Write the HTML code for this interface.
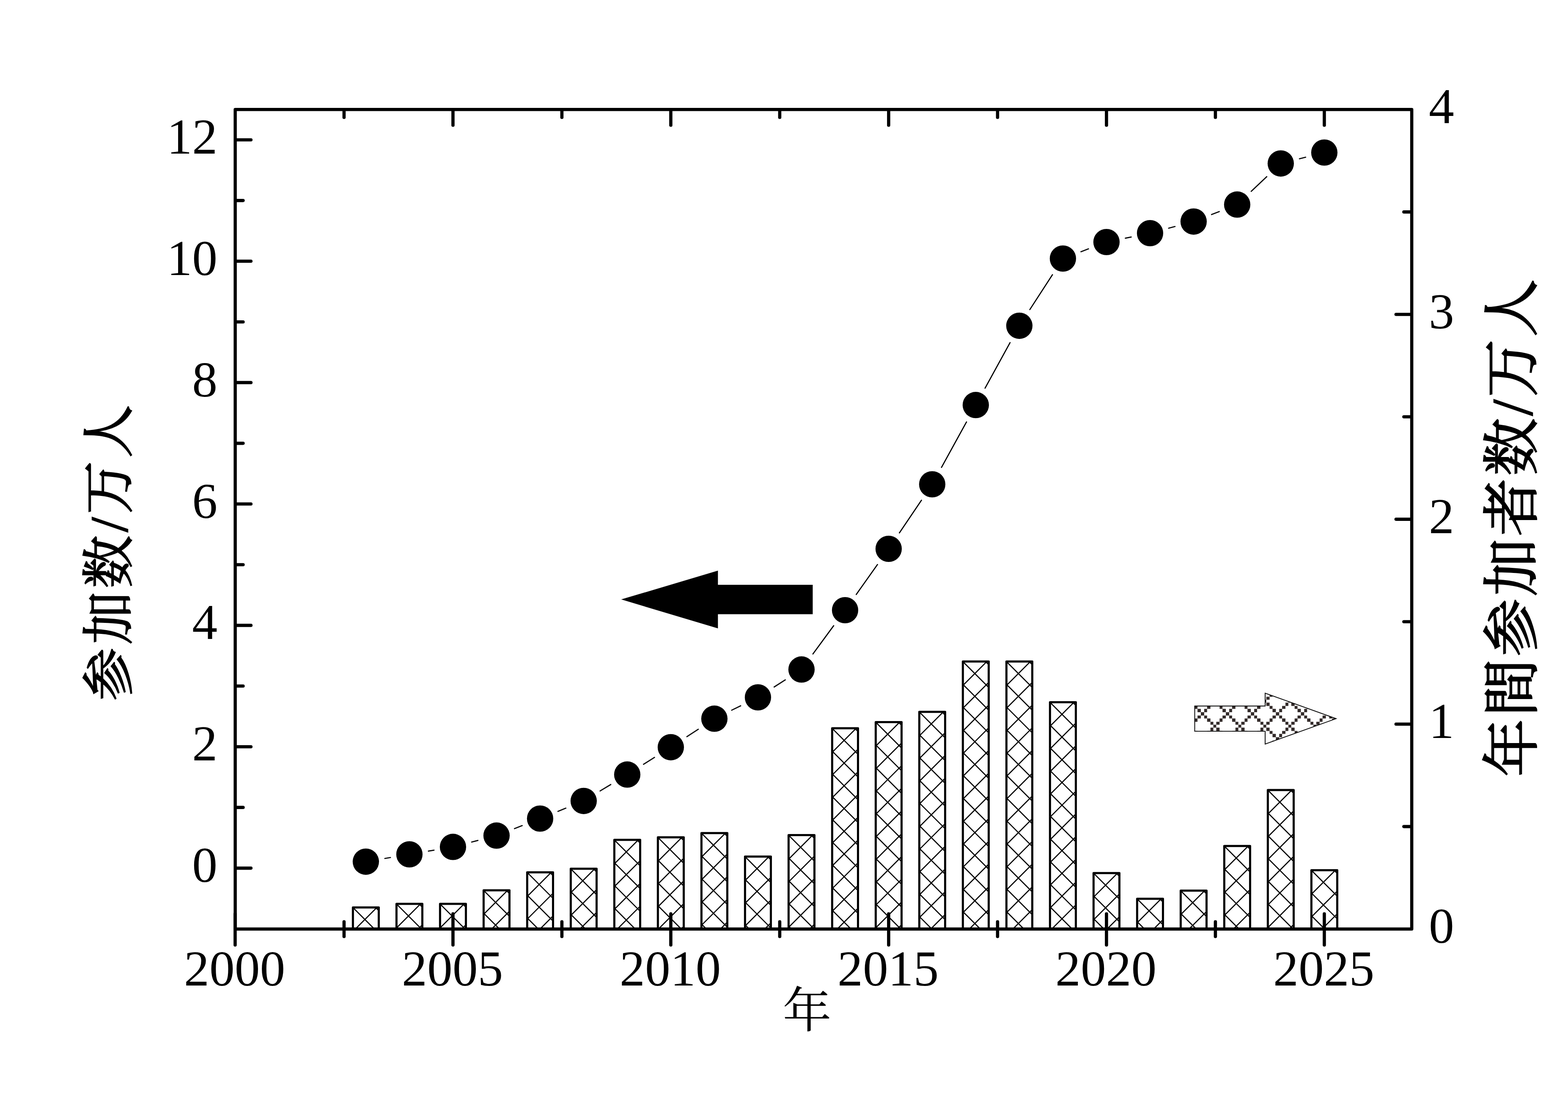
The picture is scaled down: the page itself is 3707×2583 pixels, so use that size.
<!DOCTYPE html>
<html><head><meta charset="utf-8"><title>chart</title>
<style>html,body{margin:0;padding:0;background:#fff}svg{display:block}text{font-family:"Liberation Serif","Noto Serif CJK SC",serif;fill:#000}</style>
</head><body>
<svg width="3707" height="2583" viewBox="0 0 3707 2583">
<rect x="0" y="0" width="3707" height="2583" fill="#fff"/>
<defs>
<clipPath id="c2003"><rect x="834.35" y="2144.40" width="61.10" height="51.00"/></clipPath>
<clipPath id="c2004"><rect x="937.35" y="2136.10" width="61.10" height="59.30"/></clipPath>
<clipPath id="c2005"><rect x="1040.35" y="2136.10" width="61.10" height="59.30"/></clipPath>
<clipPath id="c2006"><rect x="1143.35" y="2104.00" width="61.10" height="91.40"/></clipPath>
<clipPath id="c2007"><rect x="1246.35" y="2061.60" width="61.10" height="133.80"/></clipPath>
<clipPath id="c2008"><rect x="1349.35" y="2053.00" width="61.10" height="142.40"/></clipPath>
<clipPath id="c2009"><rect x="1452.35" y="1984.70" width="61.10" height="210.70"/></clipPath>
<clipPath id="c2010"><rect x="1555.35" y="1978.80" width="61.10" height="216.60"/></clipPath>
<clipPath id="c2011"><rect x="1658.35" y="1968.70" width="61.10" height="226.70"/></clipPath>
<clipPath id="c2012"><rect x="1761.35" y="2024.20" width="61.10" height="171.20"/></clipPath>
<clipPath id="c2013"><rect x="1864.35" y="1973.60" width="61.10" height="221.80"/></clipPath>
<clipPath id="c2014"><rect x="1967.35" y="1721.10" width="61.10" height="474.30"/></clipPath>
<clipPath id="c2015"><rect x="2070.35" y="1706.40" width="61.10" height="489.00"/></clipPath>
<clipPath id="c2016"><rect x="2173.35" y="1682.30" width="61.10" height="513.10"/></clipPath>
<clipPath id="c2017"><rect x="2276.35" y="1563.20" width="61.10" height="632.20"/></clipPath>
<clipPath id="c2018"><rect x="2379.35" y="1563.20" width="61.10" height="632.20"/></clipPath>
<clipPath id="c2019"><rect x="2482.35" y="1659.50" width="61.10" height="535.90"/></clipPath>
<clipPath id="c2020"><rect x="2585.35" y="2063.30" width="61.10" height="132.10"/></clipPath>
<clipPath id="c2021"><rect x="2688.35" y="2124.00" width="61.10" height="71.40"/></clipPath>
<clipPath id="c2022"><rect x="2791.35" y="2104.70" width="61.10" height="90.70"/></clipPath>
<clipPath id="c2023"><rect x="2894.35" y="1999.20" width="61.10" height="196.20"/></clipPath>
<clipPath id="c2024"><rect x="2997.35" y="1867.00" width="61.10" height="328.40"/></clipPath>
<clipPath id="c2025"><rect x="3100.35" y="2056.40" width="61.10" height="139.00"/></clipPath>
</defs>
<path d="M830.80 2033.70L910.98 2113.88M904.50 2023.70L830.80 2097.40M830.80 2087.40L910.98 2167.58M904.50 2077.40L830.80 2151.10M830.80 2141.10L910.98 2221.28M904.50 2131.10L830.80 2204.80M830.80 2194.80L910.98 2274.98M904.50 2184.80L830.80 2258.50M830.80 2248.50L910.98 2328.68M904.50 2238.50L830.80 2312.20" stroke="#000" stroke-width="2.65" fill="none" clip-path="url(#c2003)"/>
<path d="M834.35 2195.40V2144.40H895.45V2195.40" fill="none" stroke="#000" stroke-width="5.0" stroke-linejoin="round"/>
<path d="M933.80 2025.40L1013.98 2105.58M1007.50 2015.40L933.80 2089.10M933.80 2079.10L1013.98 2159.28M1007.50 2069.10L933.80 2142.80M933.80 2132.80L1013.98 2212.98M1007.50 2122.80L933.80 2196.50M933.80 2186.50L1013.98 2266.68M1007.50 2176.50L933.80 2250.20M933.80 2240.20L1013.98 2320.38M1007.50 2230.20L933.80 2303.90M933.80 2293.90L1013.98 2374.08M1007.50 2283.90L933.80 2357.60" stroke="#000" stroke-width="2.65" fill="none" clip-path="url(#c2004)"/>
<path d="M937.35 2195.40V2136.10H998.45V2195.40" fill="none" stroke="#000" stroke-width="5.0" stroke-linejoin="round"/>
<path d="M1036.80 2025.40L1116.98 2105.58M1110.50 2015.40L1036.80 2089.10M1036.80 2079.10L1116.98 2159.28M1110.50 2069.10L1036.80 2142.80M1036.80 2132.80L1116.98 2212.98M1110.50 2122.80L1036.80 2196.50M1036.80 2186.50L1116.98 2266.68M1110.50 2176.50L1036.80 2250.20M1036.80 2240.20L1116.98 2320.38M1110.50 2230.20L1036.80 2303.90M1036.80 2293.90L1116.98 2374.08M1110.50 2283.90L1036.80 2357.60" stroke="#000" stroke-width="2.65" fill="none" clip-path="url(#c2005)"/>
<path d="M1040.35 2195.40V2136.10H1101.45V2195.40" fill="none" stroke="#000" stroke-width="5.0" stroke-linejoin="round"/>
<path d="M1139.80 1993.30L1219.98 2073.48M1213.50 1983.30L1139.80 2057.00M1139.80 2047.00L1219.98 2127.18M1213.50 2037.00L1139.80 2110.70M1139.80 2100.70L1219.98 2180.88M1213.50 2090.70L1139.80 2164.40M1139.80 2154.40L1219.98 2234.58M1213.50 2144.40L1139.80 2218.10M1139.80 2208.10L1219.98 2288.28M1213.50 2198.10L1139.80 2271.80M1139.80 2261.80L1219.98 2341.98M1213.50 2251.80L1139.80 2325.50" stroke="#000" stroke-width="2.65" fill="none" clip-path="url(#c2006)"/>
<path d="M1143.35 2195.40V2104.00H1204.45V2195.40" fill="none" stroke="#000" stroke-width="5.0" stroke-linejoin="round"/>
<path d="M1242.80 1950.90L1322.98 2031.08M1316.50 1940.90L1242.80 2014.60M1242.80 2004.60L1322.98 2084.78M1316.50 1994.60L1242.80 2068.30M1242.80 2058.30L1322.98 2138.48M1316.50 2048.30L1242.80 2122.00M1242.80 2112.00L1322.98 2192.18M1316.50 2102.00L1242.80 2175.70M1242.80 2165.70L1322.98 2245.88M1316.50 2155.70L1242.80 2229.40M1242.80 2219.40L1322.98 2299.58M1316.50 2209.40L1242.80 2283.10M1242.80 2273.10L1322.98 2353.28M1316.50 2263.10L1242.80 2336.80" stroke="#000" stroke-width="2.65" fill="none" clip-path="url(#c2007)"/>
<path d="M1246.35 2195.40V2061.60H1307.45V2195.40" fill="none" stroke="#000" stroke-width="5.0" stroke-linejoin="round"/>
<path d="M1345.80 1942.30L1425.98 2022.48M1419.50 1932.30L1345.80 2006.00M1345.80 1996.00L1425.98 2076.18M1419.50 1986.00L1345.80 2059.70M1345.80 2049.70L1425.98 2129.88M1419.50 2039.70L1345.80 2113.40M1345.80 2103.40L1425.98 2183.58M1419.50 2093.40L1345.80 2167.10M1345.80 2157.10L1425.98 2237.28M1419.50 2147.10L1345.80 2220.80M1345.80 2210.80L1425.98 2290.98M1419.50 2200.80L1345.80 2274.50M1345.80 2264.50L1425.98 2344.68M1419.50 2254.50L1345.80 2328.20" stroke="#000" stroke-width="2.65" fill="none" clip-path="url(#c2008)"/>
<path d="M1349.35 2195.40V2053.00H1410.45V2195.40" fill="none" stroke="#000" stroke-width="5.0" stroke-linejoin="round"/>
<path d="M1448.80 1874.00L1528.98 1954.18M1522.50 1864.00L1448.80 1937.70M1448.80 1927.70L1528.98 2007.88M1522.50 1917.70L1448.80 1991.40M1448.80 1981.40L1528.98 2061.58M1522.50 1971.40L1448.80 2045.10M1448.80 2035.10L1528.98 2115.28M1522.50 2025.10L1448.80 2098.80M1448.80 2088.80L1528.98 2168.98M1522.50 2078.80L1448.80 2152.50M1448.80 2142.50L1528.98 2222.68M1522.50 2132.50L1448.80 2206.20M1448.80 2196.20L1528.98 2276.38M1522.50 2186.20L1448.80 2259.90M1448.80 2249.90L1528.98 2330.08M1522.50 2239.90L1448.80 2313.60" stroke="#000" stroke-width="2.65" fill="none" clip-path="url(#c2009)"/>
<path d="M1452.35 2195.40V1984.70H1513.45V2195.40" fill="none" stroke="#000" stroke-width="5.0" stroke-linejoin="round"/>
<path d="M1551.80 1868.10L1631.98 1948.28M1625.50 1858.10L1551.80 1931.80M1551.80 1921.80L1631.98 2001.98M1625.50 1911.80L1551.80 1985.50M1551.80 1975.50L1631.98 2055.68M1625.50 1965.50L1551.80 2039.20M1551.80 2029.20L1631.98 2109.38M1625.50 2019.20L1551.80 2092.90M1551.80 2082.90L1631.98 2163.08M1625.50 2072.90L1551.80 2146.60M1551.80 2136.60L1631.98 2216.78M1625.50 2126.60L1551.80 2200.30M1551.80 2190.30L1631.98 2270.48M1625.50 2180.30L1551.80 2254.00M1551.80 2244.00L1631.98 2324.18M1625.50 2234.00L1551.80 2307.70M1551.80 2297.70L1631.98 2377.88M1625.50 2287.70L1551.80 2361.40" stroke="#000" stroke-width="2.65" fill="none" clip-path="url(#c2010)"/>
<path d="M1555.35 2195.40V1978.80H1616.45V2195.40" fill="none" stroke="#000" stroke-width="5.0" stroke-linejoin="round"/>
<path d="M1654.80 1858.00L1734.98 1938.18M1728.50 1848.00L1654.80 1921.70M1654.80 1911.70L1734.98 1991.88M1728.50 1901.70L1654.80 1975.40M1654.80 1965.40L1734.98 2045.58M1728.50 1955.40L1654.80 2029.10M1654.80 2019.10L1734.98 2099.28M1728.50 2009.10L1654.80 2082.80M1654.80 2072.80L1734.98 2152.98M1728.50 2062.80L1654.80 2136.50M1654.80 2126.50L1734.98 2206.68M1728.50 2116.50L1654.80 2190.20M1654.80 2180.20L1734.98 2260.38M1728.50 2170.20L1654.80 2243.90M1654.80 2233.90L1734.98 2314.08M1728.50 2223.90L1654.80 2297.60M1654.80 2287.60L1734.98 2367.78M1728.50 2277.60L1654.80 2351.30" stroke="#000" stroke-width="2.65" fill="none" clip-path="url(#c2011)"/>
<path d="M1658.35 2195.40V1968.70H1719.45V2195.40" fill="none" stroke="#000" stroke-width="5.0" stroke-linejoin="round"/>
<path d="M1757.80 1913.50L1837.98 1993.68M1831.50 1903.50L1757.80 1977.20M1757.80 1967.20L1837.98 2047.38M1831.50 1957.20L1757.80 2030.90M1757.80 2020.90L1837.98 2101.08M1831.50 2010.90L1757.80 2084.60M1757.80 2074.60L1837.98 2154.78M1831.50 2064.60L1757.80 2138.30M1757.80 2128.30L1837.98 2208.48M1831.50 2118.30L1757.80 2192.00M1757.80 2182.00L1837.98 2262.18M1831.50 2172.00L1757.80 2245.70M1757.80 2235.70L1837.98 2315.88M1831.50 2225.70L1757.80 2299.40M1757.80 2289.40L1837.98 2369.58M1831.50 2279.40L1757.80 2353.10" stroke="#000" stroke-width="2.65" fill="none" clip-path="url(#c2012)"/>
<path d="M1761.35 2195.40V2024.20H1822.45V2195.40" fill="none" stroke="#000" stroke-width="5.0" stroke-linejoin="round"/>
<path d="M1860.80 1862.90L1940.98 1943.08M1934.50 1852.90L1860.80 1926.60M1860.80 1916.60L1940.98 1996.78M1934.50 1906.60L1860.80 1980.30M1860.80 1970.30L1940.98 2050.48M1934.50 1960.30L1860.80 2034.00M1860.80 2024.00L1940.98 2104.18M1934.50 2014.00L1860.80 2087.70M1860.80 2077.70L1940.98 2157.88M1934.50 2067.70L1860.80 2141.40M1860.80 2131.40L1940.98 2211.58M1934.50 2121.40L1860.80 2195.10M1860.80 2185.10L1940.98 2265.28M1934.50 2175.10L1860.80 2248.80M1860.80 2238.80L1940.98 2318.98M1934.50 2228.80L1860.80 2302.50M1860.80 2292.50L1940.98 2372.68M1934.50 2282.50L1860.80 2356.20" stroke="#000" stroke-width="2.65" fill="none" clip-path="url(#c2013)"/>
<path d="M1864.35 2195.40V1973.60H1925.45V2195.40" fill="none" stroke="#000" stroke-width="5.0" stroke-linejoin="round"/>
<path d="M1963.80 1610.40L2043.98 1690.58M2037.50 1600.40L1963.80 1674.10M1963.80 1664.10L2043.98 1744.28M2037.50 1654.10L1963.80 1727.80M1963.80 1717.80L2043.98 1797.98M2037.50 1707.80L1963.80 1781.50M1963.80 1771.50L2043.98 1851.68M2037.50 1761.50L1963.80 1835.20M1963.80 1825.20L2043.98 1905.38M2037.50 1815.20L1963.80 1888.90M1963.80 1878.90L2043.98 1959.08M2037.50 1868.90L1963.80 1942.60M1963.80 1932.60L2043.98 2012.78M2037.50 1922.60L1963.80 1996.30M1963.80 1986.30L2043.98 2066.48M2037.50 1976.30L1963.80 2050.00M1963.80 2040.00L2043.98 2120.18M2037.50 2030.00L1963.80 2103.70M1963.80 2093.70L2043.98 2173.88M2037.50 2083.70L1963.80 2157.40M1963.80 2147.40L2043.98 2227.58M2037.50 2137.40L1963.80 2211.10M1963.80 2201.10L2043.98 2281.28M2037.50 2191.10L1963.80 2264.80M1963.80 2254.80L2043.98 2334.98M2037.50 2244.80L1963.80 2318.50" stroke="#000" stroke-width="2.65" fill="none" clip-path="url(#c2014)"/>
<path d="M1967.35 2195.40V1721.10H2028.45V2195.40" fill="none" stroke="#000" stroke-width="5.0" stroke-linejoin="round"/>
<path d="M2066.80 1595.70L2146.98 1675.88M2140.50 1585.70L2066.80 1659.40M2066.80 1649.40L2146.98 1729.58M2140.50 1639.40L2066.80 1713.10M2066.80 1703.10L2146.98 1783.28M2140.50 1693.10L2066.80 1766.80M2066.80 1756.80L2146.98 1836.98M2140.50 1746.80L2066.80 1820.50M2066.80 1810.50L2146.98 1890.68M2140.50 1800.50L2066.80 1874.20M2066.80 1864.20L2146.98 1944.38M2140.50 1854.20L2066.80 1927.90M2066.80 1917.90L2146.98 1998.08M2140.50 1907.90L2066.80 1981.60M2066.80 1971.60L2146.98 2051.78M2140.50 1961.60L2066.80 2035.30M2066.80 2025.30L2146.98 2105.48M2140.50 2015.30L2066.80 2089.00M2066.80 2079.00L2146.98 2159.18M2140.50 2069.00L2066.80 2142.70M2066.80 2132.70L2146.98 2212.88M2140.50 2122.70L2066.80 2196.40M2066.80 2186.40L2146.98 2266.58M2140.50 2176.40L2066.80 2250.10M2066.80 2240.10L2146.98 2320.28M2140.50 2230.10L2066.80 2303.80M2066.80 2293.80L2146.98 2373.98M2140.50 2283.80L2066.80 2357.50" stroke="#000" stroke-width="2.65" fill="none" clip-path="url(#c2015)"/>
<path d="M2070.35 2195.40V1706.40H2131.45V2195.40" fill="none" stroke="#000" stroke-width="5.0" stroke-linejoin="round"/>
<path d="M2169.80 1571.60L2249.98 1651.78M2243.50 1561.60L2169.80 1635.30M2169.80 1625.30L2249.98 1705.48M2243.50 1615.30L2169.80 1689.00M2169.80 1679.00L2249.98 1759.18M2243.50 1669.00L2169.80 1742.70M2169.80 1732.70L2249.98 1812.88M2243.50 1722.70L2169.80 1796.40M2169.80 1786.40L2249.98 1866.58M2243.50 1776.40L2169.80 1850.10M2169.80 1840.10L2249.98 1920.28M2243.50 1830.10L2169.80 1903.80M2169.80 1893.80L2249.98 1973.98M2243.50 1883.80L2169.80 1957.50M2169.80 1947.50L2249.98 2027.68M2243.50 1937.50L2169.80 2011.20M2169.80 2001.20L2249.98 2081.38M2243.50 1991.20L2169.80 2064.90M2169.80 2054.90L2249.98 2135.08M2243.50 2044.90L2169.80 2118.60M2169.80 2108.60L2249.98 2188.78M2243.50 2098.60L2169.80 2172.30M2169.80 2162.30L2249.98 2242.48M2243.50 2152.30L2169.80 2226.00M2169.80 2216.00L2249.98 2296.18M2243.50 2206.00L2169.80 2279.70M2169.80 2269.70L2249.98 2349.88M2243.50 2259.70L2169.80 2333.40" stroke="#000" stroke-width="2.65" fill="none" clip-path="url(#c2016)"/>
<path d="M2173.35 2195.40V1682.30H2234.45V2195.40" fill="none" stroke="#000" stroke-width="5.0" stroke-linejoin="round"/>
<path d="M2272.80 1452.50L2352.98 1532.68M2346.50 1442.50L2272.80 1516.20M2272.80 1506.20L2352.98 1586.38M2346.50 1496.20L2272.80 1569.90M2272.80 1559.90L2352.98 1640.08M2346.50 1549.90L2272.80 1623.60M2272.80 1613.60L2352.98 1693.78M2346.50 1603.60L2272.80 1677.30M2272.80 1667.30L2352.98 1747.48M2346.50 1657.30L2272.80 1731.00M2272.80 1721.00L2352.98 1801.18M2346.50 1711.00L2272.80 1784.70M2272.80 1774.70L2352.98 1854.88M2346.50 1764.70L2272.80 1838.40M2272.80 1828.40L2352.98 1908.58M2346.50 1818.40L2272.80 1892.10M2272.80 1882.10L2352.98 1962.28M2346.50 1872.10L2272.80 1945.80M2272.80 1935.80L2352.98 2015.98M2346.50 1925.80L2272.80 1999.50M2272.80 1989.50L2352.98 2069.68M2346.50 1979.50L2272.80 2053.20M2272.80 2043.20L2352.98 2123.38M2346.50 2033.20L2272.80 2106.90M2272.80 2096.90L2352.98 2177.08M2346.50 2086.90L2272.80 2160.60M2272.80 2150.60L2352.98 2230.78M2346.50 2140.60L2272.80 2214.30M2272.80 2204.30L2352.98 2284.48M2346.50 2194.30L2272.80 2268.00M2272.80 2258.00L2352.98 2338.18M2346.50 2248.00L2272.80 2321.70" stroke="#000" stroke-width="2.65" fill="none" clip-path="url(#c2017)"/>
<path d="M2276.35 2195.40V1563.20H2337.45V2195.40" fill="none" stroke="#000" stroke-width="5.0" stroke-linejoin="round"/>
<path d="M2375.80 1452.50L2455.98 1532.68M2449.50 1442.50L2375.80 1516.20M2375.80 1506.20L2455.98 1586.38M2449.50 1496.20L2375.80 1569.90M2375.80 1559.90L2455.98 1640.08M2449.50 1549.90L2375.80 1623.60M2375.80 1613.60L2455.98 1693.78M2449.50 1603.60L2375.80 1677.30M2375.80 1667.30L2455.98 1747.48M2449.50 1657.30L2375.80 1731.00M2375.80 1721.00L2455.98 1801.18M2449.50 1711.00L2375.80 1784.70M2375.80 1774.70L2455.98 1854.88M2449.50 1764.70L2375.80 1838.40M2375.80 1828.40L2455.98 1908.58M2449.50 1818.40L2375.80 1892.10M2375.80 1882.10L2455.98 1962.28M2449.50 1872.10L2375.80 1945.80M2375.80 1935.80L2455.98 2015.98M2449.50 1925.80L2375.80 1999.50M2375.80 1989.50L2455.98 2069.68M2449.50 1979.50L2375.80 2053.20M2375.80 2043.20L2455.98 2123.38M2449.50 2033.20L2375.80 2106.90M2375.80 2096.90L2455.98 2177.08M2449.50 2086.90L2375.80 2160.60M2375.80 2150.60L2455.98 2230.78M2449.50 2140.60L2375.80 2214.30M2375.80 2204.30L2455.98 2284.48M2449.50 2194.30L2375.80 2268.00M2375.80 2258.00L2455.98 2338.18M2449.50 2248.00L2375.80 2321.70" stroke="#000" stroke-width="2.65" fill="none" clip-path="url(#c2018)"/>
<path d="M2379.35 2195.40V1563.20H2440.45V2195.40" fill="none" stroke="#000" stroke-width="5.0" stroke-linejoin="round"/>
<path d="M2478.80 1548.80L2558.98 1628.98M2552.50 1538.80L2478.80 1612.50M2478.80 1602.50L2558.98 1682.68M2552.50 1592.50L2478.80 1666.20M2478.80 1656.20L2558.98 1736.38M2552.50 1646.20L2478.80 1719.90M2478.80 1709.90L2558.98 1790.08M2552.50 1699.90L2478.80 1773.60M2478.80 1763.60L2558.98 1843.78M2552.50 1753.60L2478.80 1827.30M2478.80 1817.30L2558.98 1897.48M2552.50 1807.30L2478.80 1881.00M2478.80 1871.00L2558.98 1951.18M2552.50 1861.00L2478.80 1934.70M2478.80 1924.70L2558.98 2004.88M2552.50 1914.70L2478.80 1988.40M2478.80 1978.40L2558.98 2058.58M2552.50 1968.40L2478.80 2042.10M2478.80 2032.10L2558.98 2112.28M2552.50 2022.10L2478.80 2095.80M2478.80 2085.80L2558.98 2165.98M2552.50 2075.80L2478.80 2149.50M2478.80 2139.50L2558.98 2219.68M2552.50 2129.50L2478.80 2203.20M2478.80 2193.20L2558.98 2273.38M2552.50 2183.20L2478.80 2256.90M2478.80 2246.90L2558.98 2327.08M2552.50 2236.90L2478.80 2310.60" stroke="#000" stroke-width="2.65" fill="none" clip-path="url(#c2019)"/>
<path d="M2482.35 2195.40V1659.50H2543.45V2195.40" fill="none" stroke="#000" stroke-width="5.0" stroke-linejoin="round"/>
<path d="M2581.80 1952.60L2661.98 2032.78M2655.50 1942.60L2581.80 2016.30M2581.80 2006.30L2661.98 2086.48M2655.50 1996.30L2581.80 2070.00M2581.80 2060.00L2661.98 2140.18M2655.50 2050.00L2581.80 2123.70M2581.80 2113.70L2661.98 2193.88M2655.50 2103.70L2581.80 2177.40M2581.80 2167.40L2661.98 2247.58M2655.50 2157.40L2581.80 2231.10M2581.80 2221.10L2661.98 2301.28M2655.50 2211.10L2581.80 2284.80M2581.80 2274.80L2661.98 2354.98M2655.50 2264.80L2581.80 2338.50" stroke="#000" stroke-width="2.65" fill="none" clip-path="url(#c2020)"/>
<path d="M2585.35 2195.40V2063.30H2646.45V2195.40" fill="none" stroke="#000" stroke-width="5.0" stroke-linejoin="round"/>
<path d="M2684.80 2013.30L2764.98 2093.48M2758.50 2003.30L2684.80 2077.00M2684.80 2067.00L2764.98 2147.18M2758.50 2057.00L2684.80 2130.70M2684.80 2120.70L2764.98 2200.88M2758.50 2110.70L2684.80 2184.40M2684.80 2174.40L2764.98 2254.58M2758.50 2164.40L2684.80 2238.10M2684.80 2228.10L2764.98 2308.28M2758.50 2218.10L2684.80 2291.80M2684.80 2281.80L2764.98 2361.98M2758.50 2271.80L2684.80 2345.50" stroke="#000" stroke-width="2.65" fill="none" clip-path="url(#c2021)"/>
<path d="M2688.35 2195.40V2124.00H2749.45V2195.40" fill="none" stroke="#000" stroke-width="5.0" stroke-linejoin="round"/>
<path d="M2787.80 1994.00L2867.98 2074.18M2861.50 1984.00L2787.80 2057.70M2787.80 2047.70L2867.98 2127.88M2861.50 2037.70L2787.80 2111.40M2787.80 2101.40L2867.98 2181.58M2861.50 2091.40L2787.80 2165.10M2787.80 2155.10L2867.98 2235.28M2861.50 2145.10L2787.80 2218.80M2787.80 2208.80L2867.98 2288.98M2861.50 2198.80L2787.80 2272.50M2787.80 2262.50L2867.98 2342.68M2861.50 2252.50L2787.80 2326.20" stroke="#000" stroke-width="2.65" fill="none" clip-path="url(#c2022)"/>
<path d="M2791.35 2195.40V2104.70H2852.45V2195.40" fill="none" stroke="#000" stroke-width="5.0" stroke-linejoin="round"/>
<path d="M2890.80 1888.50L2970.98 1968.68M2964.50 1878.50L2890.80 1952.20M2890.80 1942.20L2970.98 2022.38M2964.50 1932.20L2890.80 2005.90M2890.80 1995.90L2970.98 2076.08M2964.50 1985.90L2890.80 2059.60M2890.80 2049.60L2970.98 2129.78M2964.50 2039.60L2890.80 2113.30M2890.80 2103.30L2970.98 2183.48M2964.50 2093.30L2890.80 2167.00M2890.80 2157.00L2970.98 2237.18M2964.50 2147.00L2890.80 2220.70M2890.80 2210.70L2970.98 2290.88M2964.50 2200.70L2890.80 2274.40M2890.80 2264.40L2970.98 2344.58M2964.50 2254.40L2890.80 2328.10" stroke="#000" stroke-width="2.65" fill="none" clip-path="url(#c2023)"/>
<path d="M2894.35 2195.40V1999.20H2955.45V2195.40" fill="none" stroke="#000" stroke-width="5.0" stroke-linejoin="round"/>
<path d="M2993.80 1756.30L3073.98 1836.48M3067.50 1746.30L2993.80 1820.00M2993.80 1810.00L3073.98 1890.18M3067.50 1800.00L2993.80 1873.70M2993.80 1863.70L3073.98 1943.88M3067.50 1853.70L2993.80 1927.40M2993.80 1917.40L3073.98 1997.58M3067.50 1907.40L2993.80 1981.10M2993.80 1971.10L3073.98 2051.28M3067.50 1961.10L2993.80 2034.80M2993.80 2024.80L3073.98 2104.98M3067.50 2014.80L2993.80 2088.50M2993.80 2078.50L3073.98 2158.68M3067.50 2068.50L2993.80 2142.20M2993.80 2132.20L3073.98 2212.38M3067.50 2122.20L2993.80 2195.90M2993.80 2185.90L3073.98 2266.08M3067.50 2175.90L2993.80 2249.60M2993.80 2239.60L3073.98 2319.78M3067.50 2229.60L2993.80 2303.30M2993.80 2293.30L3073.98 2373.48M3067.50 2283.30L2993.80 2357.00" stroke="#000" stroke-width="2.65" fill="none" clip-path="url(#c2024)"/>
<path d="M2997.35 2195.40V1867.00H3058.45V2195.40" fill="none" stroke="#000" stroke-width="5.0" stroke-linejoin="round"/>
<path d="M3096.80 1945.70L3176.98 2025.88M3170.50 1935.70L3096.80 2009.40M3096.80 1999.40L3176.98 2079.58M3170.50 1989.40L3096.80 2063.10M3096.80 2053.10L3176.98 2133.28M3170.50 2043.10L3096.80 2116.80M3096.80 2106.80L3176.98 2186.98M3170.50 2096.80L3096.80 2170.50M3096.80 2160.50L3176.98 2240.68M3170.50 2150.50L3096.80 2224.20M3096.80 2214.20L3176.98 2294.38M3170.50 2204.20L3096.80 2277.90M3096.80 2267.90L3176.98 2348.08M3170.50 2257.90L3096.80 2331.60" stroke="#000" stroke-width="2.65" fill="none" clip-path="url(#c2025)"/>
<path d="M3100.35 2195.40V2056.40H3161.45V2195.40" fill="none" stroke="#000" stroke-width="5.0" stroke-linejoin="round"/>
<g stroke="#000" stroke-linecap="round" fill="none">
<path d="M556.1 2195.4V258.8H3337.6V2195.4Z" stroke-width="7.5" stroke-linejoin="round" stroke-linecap="butt"/>
<path d="M558.1 2051.60h35.20M558.1 1908.17h16.70M558.1 1764.74h35.20M558.1 1621.31h16.70M558.1 1477.88h35.20M558.1 1334.45h16.70M558.1 1191.02h35.20M558.1 1047.59h16.70M558.1 904.16h35.20M558.1 760.73h16.70M558.1 617.30h35.20M558.1 473.87h16.70M558.1 330.44h35.20M3335.6 1953.33h-16.70M3335.6 1711.25h-35.20M3335.6 1469.18h-16.70M3335.6 1227.10h-35.20M3335.6 985.03h-16.70M3335.6 742.95h-35.20M3335.6 500.88h-16.70M813.40 260.8v16.70M1070.90 260.8v35.20M1328.40 260.8v16.70M1585.90 260.8v35.20M1843.40 260.8v16.70M2100.90 260.8v35.20M2358.40 260.8v16.70M2615.90 260.8v35.20M2873.40 260.8v16.70M3130.90 260.8v35.20M555.90 2159.50V2233.30M813.40 2178.20V2213.20M1070.90 2159.50V2233.30M1328.40 2178.20V2213.20M1585.90 2159.50V2233.30M1843.40 2178.20V2213.20M2100.90 2159.50V2233.30M2358.40 2178.20V2213.20M2615.90 2159.50V2233.30M2873.40 2178.20V2213.20M3130.90 2159.50V2233.30" stroke-width="7.6"/>
</g>
<path d="M909.77 2028.76L923.03 2026.54M1012.75 2011.34L1026.05 2009.06M1114.94 1989.98L1129.86 1986.12M1216.29 1958.16L1234.51 1951.04M1319.07 1917.43L1337.73 1909.87M1418.82 1869.22L1443.98 1853.98M1521.45 1806.22L1547.35 1789.98M1623.97 1740.89L1650.83 1723.31M1729.77 1678.40L1751.03 1668.00M1830.24 1623.50L1856.56 1606.70M1921.84 1545.53L1970.96 1478.67M2024.25 1404.91L2074.55 1334.09M2126.37 1259.29L2178.43 1182.21M2225.82 1104.63L2284.98 997.07M2328.82 917.33L2387.98 809.67M2434.66 731.63L2488.14 649.17M2555.45 594.89L2573.35 588.11M2660.48 562.91L2674.32 560.09M2762.87 539.30L2777.93 535.30M2864.29 507.06L2882.51 499.94M2958.01 452.19L2994.79 417.51M3072.04 375.24L3086.76 371.56" stroke="#000" stroke-width="2.7" stroke-linecap="round" fill="none"/>
<circle cx="864.90" cy="2036.30" r="31.1" fill="#000"/>
<circle cx="967.90" cy="2019.00" r="31.1" fill="#000"/>
<circle cx="1070.90" cy="2001.40" r="31.1" fill="#000"/>
<circle cx="1173.90" cy="1974.70" r="31.1" fill="#000"/>
<circle cx="1276.90" cy="1934.50" r="31.1" fill="#000"/>
<circle cx="1379.90" cy="1892.80" r="31.1" fill="#000"/>
<circle cx="1482.90" cy="1830.40" r="31.1" fill="#000"/>
<circle cx="1585.90" cy="1765.80" r="31.1" fill="#000"/>
<circle cx="1688.90" cy="1698.40" r="31.1" fill="#000"/>
<circle cx="1791.90" cy="1648.00" r="31.1" fill="#000"/>
<circle cx="1894.90" cy="1582.20" r="31.1" fill="#000"/>
<circle cx="1997.90" cy="1442.00" r="31.1" fill="#000"/>
<circle cx="2100.90" cy="1297.00" r="31.1" fill="#000"/>
<circle cx="2203.90" cy="1144.50" r="31.1" fill="#000"/>
<circle cx="2306.90" cy="957.20" r="31.1" fill="#000"/>
<circle cx="2409.90" cy="769.80" r="31.1" fill="#000"/>
<circle cx="2512.90" cy="611.00" r="31.1" fill="#000"/>
<circle cx="2615.90" cy="572.00" r="31.1" fill="#000"/>
<circle cx="2718.90" cy="551.00" r="31.1" fill="#000"/>
<circle cx="2821.90" cy="523.60" r="31.1" fill="#000"/>
<circle cx="2924.90" cy="483.40" r="31.1" fill="#000"/>
<circle cx="3027.90" cy="386.30" r="31.1" fill="#000"/>
<circle cx="3130.90" cy="360.50" r="31.1" fill="#000"/>
<polygon points="1468.6,1416.6 1697.3,1348.6 1697.3,1382.1 1921.4,1382.1 1921.4,1451.4 1697.3,1451.4 1697.3,1484.9" fill="#000"/>
<defs><pattern id="px" patternUnits="userSpaceOnUse" x="2824.20" y="1668.30" width="59.120" height="59.120"><g fill="#332b2a" shape-rendering="crispEdges"><rect x="0.000" y="0.000" width="7.390" height="7.390"/><rect x="29.560" y="0.000" width="7.390" height="7.390"/><rect x="7.390" y="7.390" width="7.390" height="7.390"/><rect x="22.170" y="7.390" width="7.390" height="7.390"/><rect x="14.780" y="14.780" width="7.390" height="7.390"/><rect x="7.390" y="22.170" width="7.390" height="7.390"/><rect x="22.170" y="22.170" width="7.390" height="7.390"/><rect x="0.000" y="29.560" width="7.390" height="7.390"/><rect x="29.560" y="29.560" width="7.390" height="7.390"/><rect x="36.950" y="36.950" width="7.390" height="7.390"/><rect x="51.730" y="36.950" width="7.390" height="7.390"/><rect x="44.340" y="44.340" width="7.390" height="7.390"/><rect x="36.950" y="51.730" width="7.390" height="7.390"/><rect x="51.730" y="51.730" width="7.390" height="7.390"/></g></pattern></defs>
<polygon points="2824.5,1668.5 2991,1668.5 2991,1638.1 3158.7,1698.3 2991,1758.5 2991,1728.1 2824.5,1728.1" fill="url(#px)" stroke="#000" stroke-width="1.9" stroke-linejoin="miter"/>
<g font-size="119.6" fill="#000" stroke="none">
<text x="514.0" y="2084.1" text-anchor="end">0</text>
<text x="514.0" y="1797.2" text-anchor="end">2</text>
<text x="514.0" y="1510.4" text-anchor="end">4</text>
<text x="514.0" y="1223.5" text-anchor="end">6</text>
<text x="514.0" y="936.7" text-anchor="end">8</text>
<text x="514.0" y="649.8" text-anchor="end">10</text>
<text x="514.0" y="362.9" text-anchor="end">12</text>
<text x="3378.0" y="2227.9">0</text>
<text x="3378.0" y="1743.8">1</text>
<text x="3378.0" y="1259.6">2</text>
<text x="3378.0" y="775.5">3</text>
<text x="3378.0" y="291.3">4</text>
<text x="435.1" y="2329.1">2000</text>
<text x="950.1" y="2329.1">2005</text>
<text x="1465.1" y="2329.1">2010</text>
<text x="1980.1" y="2329.1">2015</text>
<text x="2495.1" y="2329.1">2020</text>
<text x="3010.1" y="2329.1">2025</text>
</g>
<text x="1908" y="2428" text-anchor="middle" font-size="115" fill="#000" style="font-family:'Liberation Serif','Noto Serif CJK SC',serif">年</text>
<text transform="translate(300.6 1655.9) rotate(-90)" font-size="125" fill="#000" stroke="#000" stroke-width="2.4" textLength="699" lengthAdjust="spacing" style="font-family:'Liberation Serif','Noto Serif CJK SC',serif">参加数/万人</text>
<text transform="translate(3622 1835.8) rotate(-90)" font-size="136.5" fill="#000" stroke="#000" stroke-width="2.6" textLength="1176" lengthAdjust="spacing" style="font-family:'Liberation Serif','Noto Serif CJK SC',serif">年間参加者数/万人</text>
</svg></body></html>
